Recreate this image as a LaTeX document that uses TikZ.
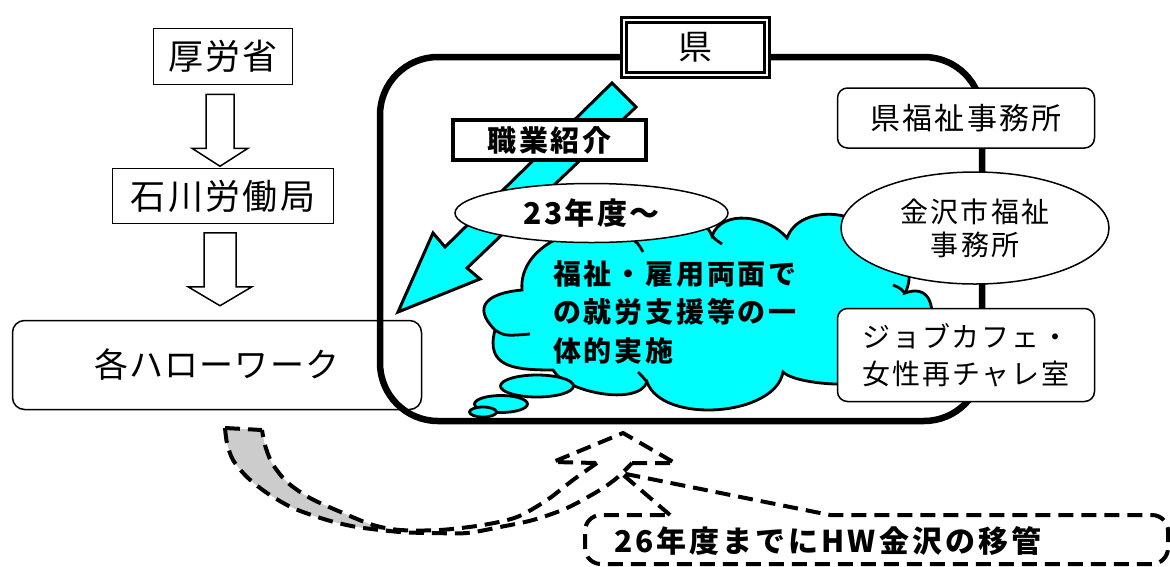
\documentclass[tikz,border=0pt]{standalone}
\usepackage{fontspec}
\newfontfamily\jp{Noto Sans CJK JP}
\usetikzlibrary{shapes.geometric,calc}
\definecolor{cyanfill}{RGB}{0,255,255}
\definecolor{grayfill}{RGB}{204,204,204}
\newcommand\jf[3]{\jp\fontsize{#1}{#2}\selectfont\addfontfeatures{LetterSpace=#3}}
\newcommand\jbf[3]{\jp\bfseries\fontsize{#1}{#2}\selectfont\addfontfeatures{LetterSpace=#3}}
\begin{document}
\begin{tikzpicture}[x=1pt,y=1pt,
  thinbox/.style={draw, line width=1.5pt, fill=white, inner sep=0pt},
  roundbox/.style={thinbox, rounded corners=10pt},
  hollow/.style={draw, line width=1.5pt, fill=white, line join=miter},
  dashline/.style={line width=4pt, dash pattern=on 15pt off 8pt},
  cloudline/.style={line width=2.8pt},
  ovalbox/.style={ellipse, draw, line width=1.5pt, fill=white, inner sep=0pt}]
\useasboundingbox (0,0) rectangle (1170,-566);

% left column
\node[roundbox, rounded corners=12pt, minimum width=409, minimum height=89, font=\jf{34}{40}{3}] (hw) at (217,-365) {各ハローワーク};
\node[thinbox, minimum width=139, minimum height=56, font=\jf{35}{40}{6}] (kosho) at (223,-56.5) {厚労省};
\node[thinbox, minimum width=221, minimum height=55, font=\jf{35}{40}{7}] (rodo) at (223,-196) {石川労働局};
\draw[hollow] ($(kosho.south)+(-17,-9)$) -- ++(28,0) -- ++(0,-54) -- ++(14,0) -- ++(-28,-18) -- ++(-28,18) -- ++(14,0) -- cycle;
\draw[hollow] ($(rodo.south)+(-19,-8.5)$) -- ++(32,0) -- ++(0,-54) -- ++(16,0) -- ++(-32,-19) -- ++(-32,19) -- ++(16,0) -- cycle;

% prefecture frame
\node[draw, line width=6.5pt, rounded corners=58pt, minimum width=602, minimum height=364, inner sep=0pt] (kenarea) at (681,-239) {};

% cyan arrow
\draw[fill=cyanfill, line width=3pt, line join=miter] (612,-83) -- (636,-107) -- (467,-268) -- (480,-279) -- (398,-312) -- (433,-233) -- (445,-247) -- cycle;
\node[draw, line width=3.5pt, fill=white, minimum width=193, minimum height=40, inner sep=0pt, font=\jbf{29}{32}{10}] (shokai) at (549.5,-140) {職業紹介};

% cloud
\draw[fill=cyanfill, cloudline] (495,-330) to[out=135,in=185,looseness=1.8] (522,-290)
  to[out=95,in=150] (630,-238)
  to[out=80,in=110] (712,-236)
  to[out=70,in=130] (787,-238)
  to[out=70,in=120] (880,-240)
  to[out=10,in=60] (905,-293)
  to[out=20,in=-10,looseness=1.6] (880,-372)
  to[out=-100,in=-45,looseness=0.5] (783,-372)
  to[out=-100,in=-70,looseness=0.85] (647,-382)
  to[out=-110,in=-60,looseness=0.7] (553,-370)
  to[out=180,in=-105,looseness=1.4] (495,-330) -- cycle;
\draw[cloudline] (495,-330) .. controls (505,-336) .. (530,-334);
\draw[cloudline] (630,-238) .. controls (638,-243) .. (643,-252);
\draw[cloudline] (712,-236) .. controls (716,-240) .. (722,-244);
\draw[cloudline] (905,-293) .. controls (900,-288) .. (893,-285);
\draw[cloudline] (647,-382) .. controls (642,-376) .. (638,-372);
\node[ellipse, draw, cloudline, fill=cyanfill, minimum width=73, minimum height=22, inner sep=0pt] (bub1) at (537,-386) {};
\node[ellipse, draw, cloudline, fill=cyanfill, minimum width=53, minimum height=17, inner sep=0pt] (bub2) at (501,-404) {};
\node[ellipse, draw, cloudline, fill=cyanfill, minimum width=27, minimum height=10, inner sep=0pt] (bub3) at (483,-412) {};
\node[anchor=west, align=left, inner sep=0pt, font=\jbf{28}{38.5}{10}] (cloudtxt) at (553,-312) {福祉・雇用両面で\\の就労支援等の一\\体的実施};

\node[ovalbox, minimum width=273, minimum height=59, font=\jbf{30}{32}{8}] (e23) at (591.5,-213) {23年度〜\hspace{26pt}};

% right column
\node[roundbox, minimum width=257, minimum height=60, font=\jf{30}{32}{8}] (kenfuku) at (966,-118) {\raisebox{-2pt}{県福祉事務所}};
\node[ovalbox, minimum width=268, minimum height=112, align=center, font=\jf{28}{33}{8}] (kanazawa) at (975,-228) {金沢市福祉\\事務所};
\node[roundbox, minimum width=257, minimum height=93, align=center, font=\jf{28}{37}{7}] (jobcafe) at (966,-355) {ジョブカフェ・\\女性再チャレ室};

\node[draw, line width=3.2pt, double=white, double distance=1.2pt, fill=white, minimum width=143, minimum height=55, inner sep=0pt, font=\jf{34}{40}{0}] (ken) at (695.5,-47.5) {県};

% curved transfer arrow
\fill[grayfill] plot[smooth] coordinates {(225,-428) (227,-443) (233,-460) (247,-477) (267,-493) (293,-508) (327,-520) (357,-527) (400,-532)}
  -- plot[smooth] coordinates {(400,-530) (373,-525) (343,-513) (310,-498) (287,-482) (272,-463) (265,-445) (262,-430)} -- cycle;
\coordinate (tailA) at (225,-428);
\coordinate (tailB) at (262,-430);
\coordinate (apex) at (623,-433);
\draw[dashline] (tailA) -- (tailB);
\draw[dashline] plot[smooth] coordinates {(225,-428) (227,-443) (233,-460) (247,-477) (267,-493) (293,-508) (327,-520) (357,-527) (400,-532) (433,-533) (467,-533) (500,-527) (533,-520) (567,-508) (600,-490) (618,-477) (632,-463)};
\draw[dashline, line join=miter] (632,-463) -- (675,-463) -- (apex) -- (553,-462) -- (597,-463);
\draw[dashline] plot[smooth] coordinates {(597,-463) (573,-480) (547,-500) (517,-517) (483,-525) (440,-530) (400,-530) (373,-525) (343,-513) (310,-498) (287,-482) (272,-463) (265,-445) (262,-430)};

% callout
\coordinate (tip) at (621,-473);
\draw[dashline] (670,-515) -- (tip) -- (830,-515) -- (1152,-515) arc[start angle=90,end angle=0,radius=16]
  -- (1168,-548) arc[start angle=0,end angle=-90,radius=16]
  -- (601,-564) arc[start angle=270,end angle=180,radius=16]
  -- (585,-531) arc[start angle=180,end angle=90,radius=16] -- cycle;
\node[anchor=west, inner sep=0pt, font=\jbf{30}{32}{10}] (callout) at (614,-541) {26年度までにHW金沢の移管};
\end{tikzpicture}
\end{document}
